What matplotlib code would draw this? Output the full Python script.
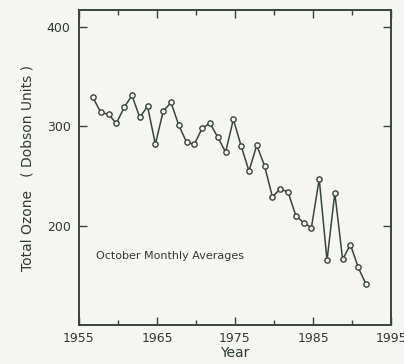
import matplotlib.pyplot as plt

# October monthly average total ozone (Dobson Units)
years = list(range(1956, 1992))
ozone = [329, 314, 312, 303, 319, 331, 309, 320, 282, 315,
         324, 301, 284, 282, 298, 303, 289, 274, 307, 280,
         255, 281, 260, 229, 237, 234, 210, 203, 198, 247,
         165, 233, 166, 181, 158, 141]

x_major = [1955, 1965, 1975, 1985, 1995]
x_minor = [1960, 1970, 1980, 1990]
y_ticks = [200, 300, 400]

# October sits ~0.79 of the way through the year
xpos = [y + 0.79 for y in years]

bg = '#f5f6f2'
ink = '#38443f'
txt = '#2f3a36'

fig = plt.figure(figsize=(4.04, 3.64), dpi=100, facecolor=bg)
ax = fig.add_axes([0.1955, 0.107, 0.7725, 0.8655], facecolor=bg)

ax.plot(xpos, ozone, color=ink, lw=1.1, marker='o', ms=3.8,
        mfc=bg, mec=ink, mew=1.0)

ax.set_xlim(1955, 1995)
ax.set_ylim(100, 417)
ax.set_xticks(x_major)
ax.set_xticks(x_minor, minor=True)
ax.set_yticks(y_ticks)

ax.tick_params(which='both', direction='in', top=True, right=True,
               color=ink, labelcolor=txt, labelsize=9)
ax.tick_params(which='major', length=6, width=1.0, pad=6)
ax.tick_params(axis='x', which='major', pad=5)
ax.tick_params(which='minor', length=3.5, width=1.0)
for s in ax.spines.values():
    s.set_linewidth(1.4)
    s.set_color(ink)

ax.set_xlabel('Year', fontsize=10, color=txt, labelpad=1)
ax.set_ylabel('Total Ozone   ( Dobson Units )', fontsize=10,
              color=txt, labelpad=9)

ax.text(1957.2, 169, 'October Monthly Averages', fontsize=8,
        color=txt, va='center')

fig.savefig('out.png', dpi=100, facecolor=bg)
